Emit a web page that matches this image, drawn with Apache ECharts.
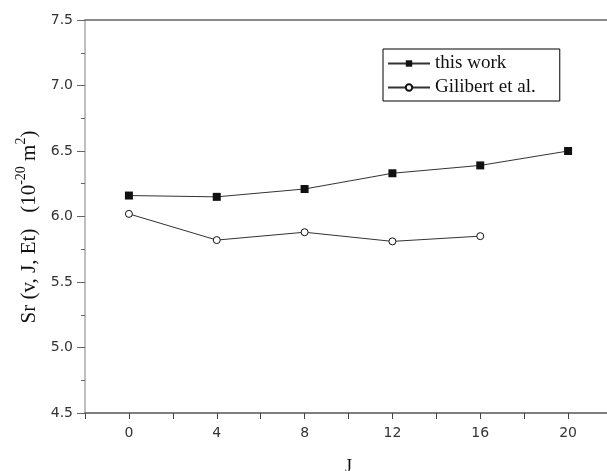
<!DOCTYPE html>
<html>
<head>
<meta charset="utf-8">
<script src="https://cdn.jsdelivr.net/npm/echarts@6/dist/echarts.min.js"></script>
<style>
  html, body { margin: 0; padding: 0; background: #fff; }
  #main { width: 607px; height: 471px; }
</style>
</head>
<body>
<div id="main"></div>
<script>
// data
var jValues = [0, 4, 8, 12, 16, 20];
var thisWork = [6.16, 6.15, 6.21, 6.33, 6.39, 6.50];
var gilibertJ = [0, 4, 8, 12, 16];
var gilibert = [6.02, 5.82, 5.88, 5.81, 5.85];

function pairs(xs, ys) {
    var out = [];
    for (var i = 0; i < ys.length; i++) {
        out.push([xs[i], ys[i]]);
    }
    return out;
}

var chart = echarts.init(document.getElementById('main'));

var option = {
    backgroundColor: '#fff',
    animation: false,
    grid: {
        left: 85,
        top: 20,
        width: 527,
        height: 393,
        outerBoundsMode: 'none'
    },
    legend: {
        orient: 'vertical',
        left: 383,
        top: 49,
        borderColor: '#000',
        borderWidth: 1,
        padding: [5, 24, 4, 4],
        itemGap: 5,
        itemWidth: 42,
        itemHeight: 8,
        textStyle: {
            fontFamily: '"Liberation Serif", "Times New Roman", serif',
            fontSize: 19,
            color: '#111'
        },
        data: ['this work', 'Gilibert et al.']
    },
    xAxis: [{
        type: 'value',
        min: -2,
        max: 22,
        interval: 2,
        name: 'J',
        nameLocation: 'middle',
        nameGap: 45,
        nameTextStyle: {
            fontFamily: '"Liberation Serif", "Times New Roman", serif',
            fontSize: 18,
            color: '#111'
        },
        axisLine: { onZero: false, lineStyle: { color: '#555', width: 1.5 } },
        axisTick: { length: 6, lineStyle: { color: '#444' } },
        axisLabel: {
            margin: 13,
            color: '#333',
            fontFamily: '"DejaVu Sans", Arial, sans-serif',
            fontSize: 14,
            formatter: function (v) {
                if (v < 0 || v > 20 || v % 4 !== 0) return '';
                return String(v);
            }
        },
        splitLine: { show: false }
    }, {
        type: 'value',
        position: 'top',
        min: -2,
        max: 22,
        axisLine: { onZero: false, lineStyle: { color: '#666', width: 1.5 } },
        axisTick: { show: false },
        axisLabel: { show: false },
        splitLine: { show: false }
    }],
    yAxis: {
        type: 'value',
        min: 4.5,
        max: 7.5,
        interval: 0.5,
        name: '{a|Sr (v, J, Et)   (10}{s|-20}{a| m}{s|2}{a|)    }',
        nameLocation: 'middle',
        nameGap: 43,
        nameTextStyle: {
            rich: {
                a: {
                    fontFamily: '"Liberation Serif", "Times New Roman", serif',
                    fontSize: 21,
                    color: '#111',
                    lineHeight: 26,
                    verticalAlign: 'bottom'
                },
                s: {
                    fontFamily: '"Liberation Serif", "Times New Roman", serif',
                    fontSize: 14,
                    color: '#111',
                    lineHeight: 26,
                    verticalAlign: 'top'
                }
            }
        },
        axisLine: { show: true, onZero: false, lineStyle: { color: '#aaa', width: 1.5 } },
        axisTick: { show: true, length: 8, lineStyle: { color: '#666' } },
        minorTick: { show: true, splitNumber: 2, length: 4, lineStyle: { color: '#666' } },
        axisLabel: {
            margin: 12,
            color: '#333',
            fontFamily: '"DejaVu Sans", Arial, sans-serif',
            fontSize: 14,
            formatter: function (v) { return v.toFixed(1); }
        },
        splitLine: { show: false }
    },
    series: [{
        name: 'this work',
        type: 'line',
        data: pairs(jValues, thisWork),
        symbol: 'rect',
        symbolSize: 8,
        itemStyle: { color: '#111' },
        lineStyle: { color: '#333', width: 1 }
    }, {
        name: 'Gilibert et al.',
        type: 'line',
        data: pairs(gilibertJ, gilibert),
        symbol: 'circle',
        symbolSize: 7,
        itemStyle: { color: '#fff', borderColor: '#111', borderWidth: 1 },
        lineStyle: { color: '#333', width: 1 }
    }]
};

chart.setOption(option);
</script>
</body>
</html>
